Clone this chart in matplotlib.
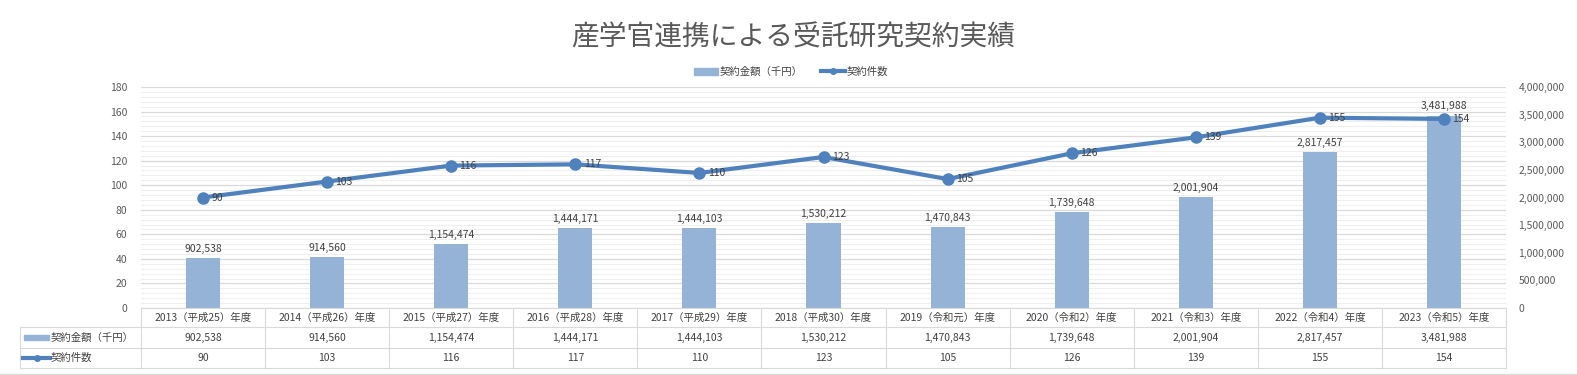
import numpy as np
import matplotlib
matplotlib.use("Agg")
import matplotlib.pyplot as plt
import matplotlib.transforms as mtransforms
from matplotlib.lines import Line2D
from matplotlib.patches import Rectangle, Patch
from matplotlib.ticker import FuncFormatter

plt.rcParams['font.family'] = ['Noto Sans CJK JP', 'DejaVu Sans']

# data
years = ["2013（平成25）年度", "2014（平成26）年度", "2015（平成27）年度", "2016（平成28）年度",
         "2017（平成29）年度", "2018（平成30）年度", "2019（令和元）年度", "2020（令和2）年度",
         "2021（令和3）年度", "2022（令和4）年度", "2023（令和5）年度"]
amounts = [902538, 914560, 1154474, 1444171, 1444103, 1530212, 1470843, 1739648, 2001904, 2817457, 3481988]
counts = [90, 103, 116, 117, 110, 123, 105, 126, 139, 155, 154]

title = "産学官連携による受託研究契約実績"
amount_name = "契約金額（千円）"
count_name = "契約件数"

bar_col = "#95B3D7"
line_col = "#4F81BD"
grid_col = "#D9D9D9"
txt_col = "#404040"
tick_col = "#595959"

W, H = 1577, 375
fig = plt.figure(figsize=(W / 100, H / 100), dpi=100)

def px(v):
    return v / W

def py(v):
    return 1 - v / H

x = np.arange(len(years))

# base axes: left scale + gridlines
ax = fig.add_axes([px(141), py(308), px(1506) - px(141), py(87) - py(308)])
ax.set_xlim(-0.5, len(years) - 0.5)
ax.set_ylim(0, 180)
ax.set_yticks(range(0, 181, 20))
ax.set_yticks(range(0, 181, 4), minor=True)
ax.grid(which='major', axis='y', color=grid_col, lw=0.9)
ax.grid(which='minor', axis='y', color='#EFEFEF', lw=0.8)
ax.tick_params(axis='y', which='both', length=0, labelsize=7.5, labelcolor=tick_col, pad=10)
ax.set_xticks([])
for s in ax.spines.values():
    s.set_visible(False)

# bars on right scale
ax2 = ax.twinx()
ax2.bar(x, amounts, width=0.275, color=bar_col)
ax2.set_ylim(0, 4000000)
ax2.set_yticks(range(0, 4000001, 500000))
ax2.yaxis.set_major_formatter(FuncFormatter(lambda v, p: f"{v:,.0f}"))
ax2.tick_params(axis='y', length=0, labelsize=7.5, labelcolor=tick_col, pad=9)
for s in ax2.spines.values():
    s.set_visible(False)
for xi, v in zip(x, amounts):
    ax2.annotate(f"{v:,}", (xi, v), xytext=(0, 3), textcoords='offset points',
                 ha='center', va='bottom', fontsize=7.5, color=txt_col)

# line on top
ax3 = ax.twinx()
ax3.set_ylim(0, 180)
ax3.set_yticks([])
for s in ax3.spines.values():
    s.set_visible(False)
ax3.plot(x, counts, color=line_col, lw=3, marker='o', ms=8)
for xi, v in zip(x, counts):
    ax3.annotate(str(v), (xi, v), xytext=(6, 0), textcoords='offset points',
                 ha='left', va='center', fontsize=7.5, color=txt_col)

# title and legend
fig.text(0.503, py(37), title, ha='center', va='center', fontsize=20, color=tick_col)
handles = [Patch(color=bar_col),
           Line2D([], [], color=line_col, lw=3, marker='o', ms=4)]
fig.legend(handles, [amount_name, count_name], loc='center', bbox_to_anchor=(px(791), py(72)),
           ncol=2, frameon=False, fontsize=7.5, handlelength=2.3, handletextpad=0.1,
           columnspacing=1.8, labelcolor=txt_col)

# data table under the plot
T = mtransforms.blended_transform_factory(ax.transData, fig.transFigure)
for xb in np.arange(-0.5, len(years), 1.0):
    fig.add_artist(Line2D([xb, xb], [py(308), py(368)], transform=T, color=grid_col, lw=0.8))
fig.add_artist(Line2D([px(20), px(20)], [py(327), py(368)], color=grid_col, lw=0.8))
fig.add_artist(Line2D([px(141), px(1506)], [py(308), py(308)], color=grid_col, lw=0.8))
for yy in (327, 348, 368):
    fig.add_artist(Line2D([px(20), px(1506)], [py(yy), py(yy)], color=grid_col, lw=0.8))

for xi, lab, a, c in zip(x, years, amounts, counts):
    fig.text(xi, py(317.5), lab, transform=T, ha='center', va='center', fontsize=7.5, color=txt_col)
    fig.text(xi, py(337.5), f"{a:,}", transform=T, ha='center', va='center', fontsize=7.5, color=txt_col)
    fig.text(xi, py(358), str(c), transform=T, ha='center', va='center', fontsize=7.5, color=txt_col)

fig.add_artist(Rectangle((px(24), py(340)), px(25), 5 / H, color=bar_col))
fig.text(px(51), py(337.5), amount_name, ha='left', va='center', fontsize=7.5, color=txt_col)
fig.add_artist(Line2D([px(23), px(50)], [py(358), py(358)], color=line_col, lw=3))
fig.add_artist(Line2D([px(36.5)], [py(358)], color=line_col, marker='o', ms=4))
fig.text(px(51), py(358), count_name, ha='left', va='center', fontsize=7.5, color=txt_col)

# outer border line at bottom
fig.add_artist(Line2D([0, 1], [py(374), py(374)], color=grid_col, lw=1))

fig.savefig("out.png", dpi=100)
